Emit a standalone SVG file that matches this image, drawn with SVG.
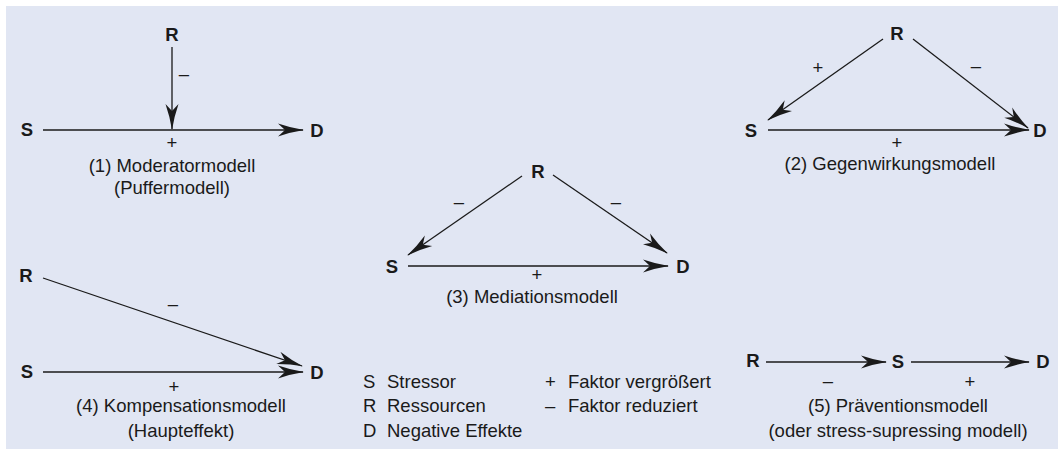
<svg xmlns="http://www.w3.org/2000/svg" width="1058" height="457" viewBox="0 0 1058 457">
  <style>
    text { font-family: "Liberation Sans", Arial, sans-serif; fill: #1a1a1a; font-size: 18.5px; }
    .n { font-weight: bold; text-anchor: middle; }
    .c { text-anchor: middle; }
    .edge { stroke: #1a1a1a; stroke-width: 1.3; fill: none; marker-end: url(#ah); }
  </style>
  <defs>
    <marker id="ah" markerUnits="userSpaceOnUse" viewBox="0 0 26 14" refX="25" refY="7" markerWidth="26" markerHeight="14" orient="auto">
      <path d="M0,0.5 Q13,5 26,7 Q13,9 0,13.5 L7,7 Z" fill="#1a1a1a"/>
    </marker>
  </defs>
  <rect x="6" y="6" width="1052" height="443" fill="#E1E6F3"/>

  <g id="connectors">
    <!-- (1) -->
    <line class="edge" x1="172" y1="47" x2="172" y2="129"/>
    <line class="edge" x1="43" y1="130" x2="303" y2="130"/>
    <!-- (2) -->
    <line class="edge" x1="883" y1="39" x2="768" y2="120"/>
    <line class="edge" x1="913" y1="39" x2="1028" y2="128"/>
    <line class="edge" x1="768" y1="130" x2="1029" y2="130"/>
    <!-- (3) -->
    <line class="edge" x1="522" y1="176" x2="408" y2="255"/>
    <line class="edge" x1="553" y1="175" x2="667" y2="253"/>
    <line class="edge" x1="408" y1="266" x2="668" y2="266"/>
    <!-- (4) -->
    <line class="edge" x1="43" y1="278" x2="302" y2="366"/>
    <line class="edge" x1="43" y1="372" x2="303" y2="372"/>
    <!-- (5) -->
    <line class="edge" x1="766" y1="362" x2="886" y2="362"/>
    <line class="edge" x1="911" y1="362" x2="1029" y2="362"/>
  </g>

  <!-- Model 1 -->
  <g id="m1-R"><text class="n" x="172" y="41">R</text></g>
  <g id="m1-S"><text class="n" x="27" y="136">S</text></g>
  <g id="m1-D"><text class="n" x="317" y="137">D</text></g>
  <g id="m1-labels">
    <text class="c" x="184" y="80">–</text>
    <text class="c" x="172" y="149">+</text>
    <text class="c" x="172" y="172">(1) Moderatormodell</text>
    <text class="c" x="172" y="194">(Puffermodell)</text>
  </g>

  <!-- Model 2 -->
  <g id="m2-R"><text class="n" x="897" y="40">R</text></g>
  <g id="m2-S"><text class="n" x="751" y="137">S</text></g>
  <g id="m2-D"><text class="n" x="1040" y="137">D</text></g>
  <g id="m2-labels">
    <text class="c" x="818" y="74">+</text>
    <text class="c" x="976" y="72">–</text>
    <text class="c" x="897" y="149">+</text>
    <text class="c" x="890" y="170">(2) Gegenwirkungsmodell</text>
  </g>

  <!-- Model 3 -->
  <g id="m3-R"><text class="n" x="538" y="178">R</text></g>
  <g id="m3-S"><text class="n" x="392" y="273">S</text></g>
  <g id="m3-D"><text class="n" x="683" y="273">D</text></g>
  <g id="m3-labels">
    <text class="c" x="459" y="208">–</text>
    <text class="c" x="616" y="208">–</text>
    <text class="c" x="537" y="281">+</text>
    <text class="c" x="532" y="303">(3) Mediationsmodell</text>
  </g>

  <!-- Model 4 -->
  <g id="m4-R"><text class="n" x="26" y="282">R</text></g>
  <g id="m4-S"><text class="n" x="27" y="378">S</text></g>
  <g id="m4-D"><text class="n" x="317" y="379">D</text></g>
  <g id="m4-labels">
    <text class="c" x="173" y="310">–</text>
    <text class="c" x="174" y="393">+</text>
    <text class="c" x="181" y="412">(4) Kompensationsmodell</text>
    <text class="c" x="181" y="437">(Haupteffekt)</text>
  </g>

  <!-- Model 5 -->
  <g id="m5-R"><text class="n" x="753" y="367">R</text></g>
  <g id="m5-S"><text class="n" x="898" y="368">S</text></g>
  <g id="m5-D"><text class="n" x="1043" y="368">D</text></g>
  <g id="m5-labels">
    <text class="c" x="828" y="387">–</text>
    <text class="c" x="970" y="388">+</text>
    <text class="c" x="898" y="412">(5) Präventionsmodell</text>
    <text class="c" x="898" y="437">(oder stress-supressing modell)</text>
  </g>

  <!-- Legend -->
  <g id="legend">
    <text x="363" y="388">S</text><text x="387" y="388">Stressor</text>
    <text x="363" y="412">R</text><text x="387" y="412">Ressourcen</text>
    <text x="363" y="437">D</text><text x="387" y="437">Negative Effekte</text>
    <text x="545" y="388">+</text><text x="568" y="388">Faktor vergrößert</text>
    <text x="545" y="412">–</text><text x="568" y="412">Faktor reduziert</text>
  </g>
</svg>
